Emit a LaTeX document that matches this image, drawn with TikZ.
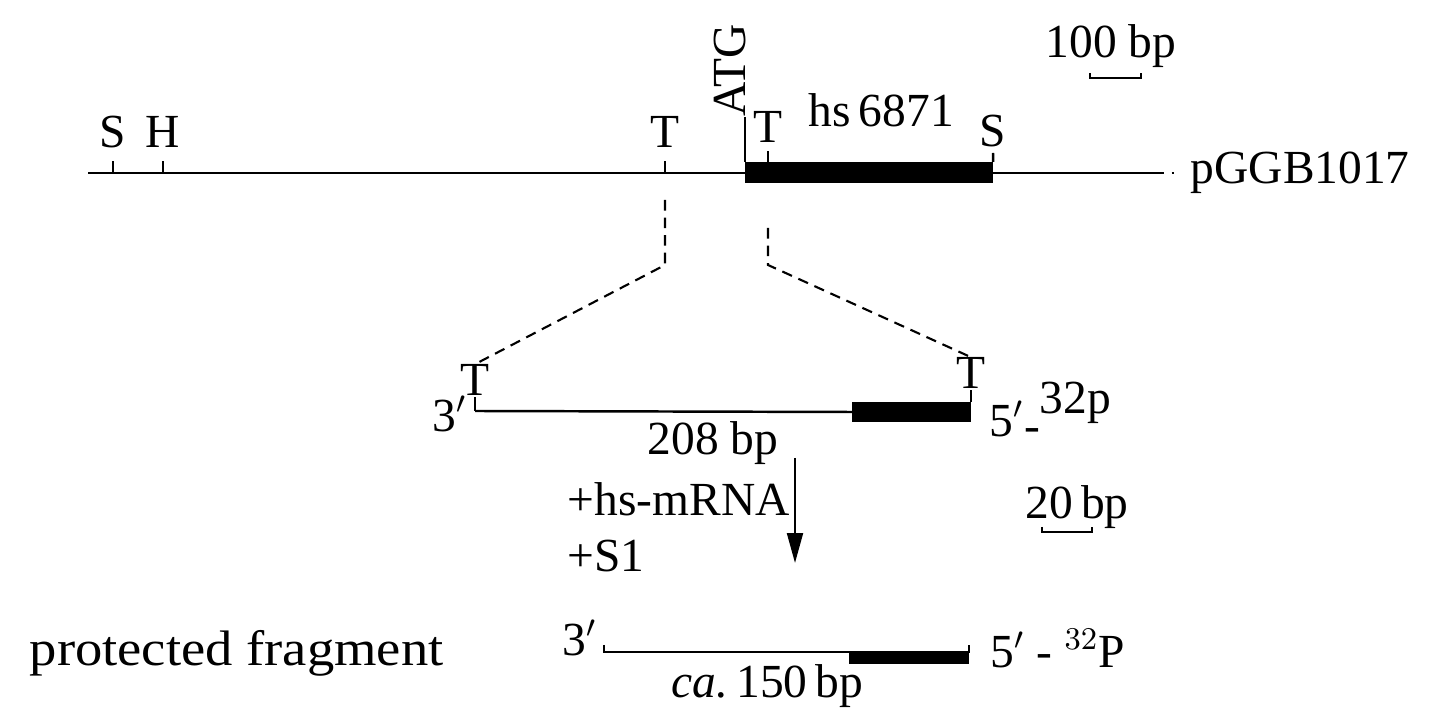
\documentclass[tikz,border=0pt]{standalone}
\usepackage{fontspec}
\setmainfont{Liberation Serif}
\usetikzlibrary{arrows.meta,positioning}

\begin{document}
\begin{tikzpicture}[x=0.01cm, y=-0.01cm, font=\fontsize{13.5}{16}\selectfont]
    % Styles
    \tikzstyle{dna} = [line width=0.7pt]
    \tikzstyle{exon} = [rectangle, fill=black, inner sep=0pt, outer sep=0pt]
    \tikzstyle{site} = [inner sep=0pt, anchor=base]
    \tikzstyle{txt} = [inner sep=0pt, anchor=base west]
    \tikzstyle{zoomline} = [line width=0.6pt, dash pattern=on 3pt off 2pt]
    \tikzstyle{arrow} = [line width=0.7pt, -{Triangle[length=8.5pt,width=4.5pt]}]
    \tikzstyle{scalebar} = [line width=0.6pt]

    \useasboundingbox (0,0) rectangle (1436,725);

    % Plasmid map
    \coordinate (pl) at (88,173);
    \coordinate (pr) at (1162,173);
    \node [inner sep=0pt, anchor=west] (pggb) at (1190,173) {pGGB1017};
    \draw [dna] (pl) -- (pr);
    \draw [dotted, line width=0.7pt, shorten >=3pt] (pr) -- (pggb.west);
    \node [exon, minimum width=2.48cm, minimum height=0.21cm, anchor=west] (hsbox) at (745,172.5) {};

    \foreach \x/\name/\lbl in {113/sa/S, 163/ha/H, 665/ta/T} {
        \draw [dna] (\x,173) -- (\x,161);
        \node [site] (\name) at (\x,148) {\lbl};
    }
    \draw [dna] (768,162) -- (768,151);
    \node [site] (tb) at (768,143) {T};
    \draw [dna] (hsbox.north east) -- (993,153);
    \node [site] (sb) at (993,147) {S};
    \node [rotate=90, inner sep=0pt, anchor=base west] (atg) at (745,117) {ATG};
    \draw [dna] (hsbox.north west) -- (atg.base west);
    \node [txt] (gene) at (808,127) {hs\,6871};

    % Scale bar
    \node [txt] (bar100) at (1045,58) {100 bp};
    \draw [scalebar] (1090,73) -- (1090,78) -- (1141,78) -- (1141,73);

    % Probe
    \coordinate (pa) at (475,411);
    \node [exon, minimum width=1.19cm, minimum height=0.2cm, anchor=east] (probebox) at (971,412) {};
    \draw [dna] (pa) -- (probebox.west);
    \draw [dna] (pa) -- (475,397);
    \node [site] (tl) at (475,396) {T};
    \draw [dna] (probebox.north east) -- (971,390);
    \node [site] (tr) at (971,389) {T};
    \node [inner sep=0pt, anchor=base east] (p3) at (468,432) {3$'$};
    \node [txt] (p5) at (989,437) {5$'$\raisebox{-0.2ex}{-}\raisebox{1.1ex}{32p}};

    % Zoom lines
    \coordinate (zl) at (665,200);
    \coordinate (zr) at (768,228);
    \draw [zoomline] (zl) -- (665,265) -- (tl.north);
    \draw [zoomline] (zr) -- (768,265) -- (tr.north);

    % S1 mapping
    \node [txt] (len) at (647,455) {208 bp};
    \coordinate (a0) at (795,458);
    \coordinate (a1) at (795,563);
    \draw [arrow] (a0) -- (a1);
    \node [txt] (mrna) at (567,516) {+hs-mRNA};
    \node [txt] (nuc) at (567,572) {+S1};
    \node [txt] (bar20) at (1025,519) {20\,bp};
    \draw [scalebar] (1042,527) -- (1042,532) -- (1092,532) -- (1092,527);

    % Protected fragment
    \node [txt] (prot) at (29,666) {\scalebox{1.15}[1.05]{protected fragment}};
    \node [inner sep=0pt, anchor=base east] (f3) at (598,656) {3$'$};
    \coordinate (fl) at (604,652);
    \coordinate (fr) at (969,652);
    \node [exon, minimum width=1.2cm, minimum height=0.13cm, anchor=north east] (fragbox) at (969,651) {};
    \draw [dna] (604,645) -- (fl) -- (fr) -- (969,645);
    \node [txt] (f5) at (990,668) {5$'$ - $^{32}$P};
    \node [txt] (ca) at (671,698) {\textit{ca.}\,150\,bp};
\end{tikzpicture}
\end{document}
